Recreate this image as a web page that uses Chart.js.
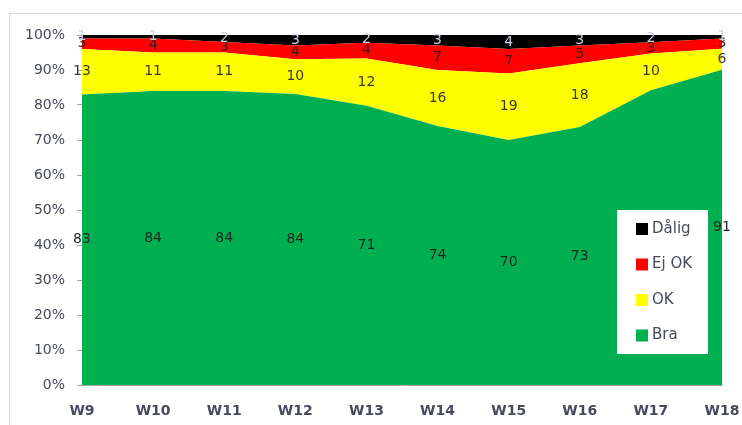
<!DOCTYPE html>
<html>
<head>
<meta charset="utf-8">
<script src="https://cdn.jsdelivr.net/npm/chart.js@4/dist/chart.umd.min.js"></script>
<style>
  html, body { margin: 0; padding: 0; background: #fff; }
  #wrap { position: relative; width: 742px; height: 425px; overflow: hidden; }
  #frame { position: absolute; left: 9px; top: 13px; width: 760px; height: 440px; border: 1px solid #d9d9d9; box-sizing: border-box; }
  canvas { position: absolute; left: 0; top: 0; }
</style>
</head>
<body>
<div id="wrap">
  <div id="frame"></div>
  <canvas id="chart" width="742" height="425"></canvas>
</div>
<script>
// Weekly counts per rating
const weeks = ["W9", "W10", "W11", "W12", "W13", "W14", "W15", "W16", "W17", "W18"];
const bra = [83, 84, 84, 84, 71, 74, 70, 73, 80, 91];
const ok = [13, 11, 11, 10, 12, 16, 19, 18, 10, 6];
const ejOk = [3, 4, 3, 4, 4, 7, 7, 5, 3, 3];
const dalig = [1, 1, 2, 3, 2, 3, 4, 3, 2, 1];
const yTicks = [0, 10, 20, 30, 40, 50, 60, 70, 80, 90, 100];

const totals = weeks.map((_, i) => bra[i] + ok[i] + ejOk[i] + dalig[i]);
const toPct = (arr) => arr.map((v, i) => (v / totals[i]) * 100);

const FONT = "'DejaVu Sans', sans-serif";
const TEXT = "#474a5c";

const series = [
  { label: "Bra", counts: bra, color: "#00b050", text: "#1c261e" },
  { label: "OK", counts: ok, color: "#ffff00", text: "#3a3a2a" },
  { label: "Ej OK", counts: ejOk, color: "#ff0000", text: "#3a1a1a" },
  { label: "Dålig", counts: dalig, color: "#000000", text: "#c8d0e0" },
];

// count labels centred in each band
const bandLabels = {
  id: "bandLabels",
  afterDatasetsDraw(chart) {
    const ctx = chart.ctx;
    const base = chart.scales.y.getPixelForValue(0);
    ctx.save();
    ctx.font = "14px " + FONT;
    ctx.textAlign = "center";
    ctx.textBaseline = "middle";
    chart.data.datasets.forEach((ds, i) => {
      const meta = chart.getDatasetMeta(i);
      const prev = i > 0 ? chart.getDatasetMeta(i - 1) : null;
      meta.data.forEach((pt, j) => {
        const bottom = prev ? prev.data[j].y : base;
        ctx.fillStyle = ds.labelColor;
        ctx.fillText(String(ds.counts[j]), pt.x, (pt.y + bottom) / 2);
      });
    });
    ctx.restore();
  },
};

// boxed legend inside the plot, top entry = top band
const boxLegend = {
  id: "boxLegend",
  afterDraw(chart, args, opts) {
    const ctx = chart.ctx;
    const { x, y, w, h, rowGap } = opts;
    ctx.save();
    ctx.fillStyle = "#ffffff";
    ctx.fillRect(x, y, w, h);
    ctx.font = "15px " + FONT;
    ctx.textBaseline = "middle";
    const items = chart.data.datasets.slice().reverse();
    items.forEach((ds, k) => {
      const cy = y + 19 + k * rowGap;
      ctx.fillStyle = ds.backgroundColor;
      ctx.fillRect(x + 19, cy - 6, 12, 12);
      ctx.fillStyle = TEXT;
      ctx.fillText(ds.label, x + 35, cy);
    });
    ctx.restore();
  },
};

new Chart(document.getElementById("chart"), {
  type: "line",
  data: {
    labels: weeks,
    datasets: series.map((s, i) => ({
      label: s.label,
      data: toPct(s.counts),
      counts: s.counts,
      labelColor: s.text,
      backgroundColor: s.color,
      borderColor: s.color,
      borderWidth: 0,
      pointRadius: 0,
      tension: 0,
      fill: i === 0 ? "origin" : "-1",
    })),
  },
  options: {
    responsive: false,
    animation: false,
    layout: { padding: { left: 0, right: 20, top: 35, bottom: 0 } },
    plugins: {
      legend: { display: false },
      tooltip: { enabled: false },
      boxLegend: { x: 617, y: 210, w: 91, h: 144, rowGap: 35.5 },
    },
    scales: {
      x: {
        offset: false,
        grid: { display: false, drawTicks: true, tickLength: 5, color: "#a6a6a6" },
        border: { color: "#a6a6a6" },
        ticks: { color: TEXT, font: { family: FONT, size: 14, weight: "bold" }, padding: 13, maxRotation: 0 },
        afterFit(scale) {
          scale.height = 40;
          scale.paddingLeft = 0;
          scale.paddingRight = 0;
        },
      },
      y: {
        stacked: true,
        min: 0,
        max: 100,
        afterBuildTicks(scale) { scale.ticks = yTicks.map((v) => ({ value: v })); },
        grid: { drawOnChartArea: false, drawTicks: true, tickLength: 5, color: "#a6a6a6" },
        border: { color: "#a6a6a6" },
        ticks: {
          color: TEXT,
          font: { family: FONT, size: 14 },
          padding: 12,
          callback: (v) => v + "%",
        },
        afterFit(scale) {
          scale.width = 82;
          scale.paddingTop = 0;
          scale.paddingBottom = 0;
        },
      },
    },
  },
  plugins: [bandLabels, boxLegend],
});
</script>
</body>
</html>
